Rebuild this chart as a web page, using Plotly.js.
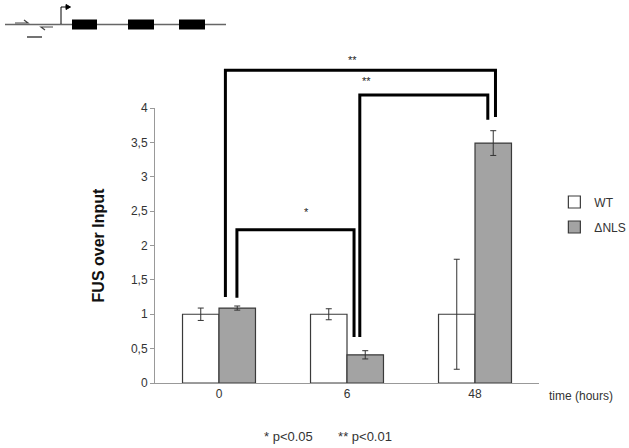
<!DOCTYPE html>
<html>
<head>
<meta charset="utf-8">
<script src="https://cdn.plot.ly/plotly-3.0.1.min.js"></script>
<style>
  html, body { margin: 0; padding: 0; background: #fff; }
  #chart { width: 629px; height: 448px; }
</style>
</head>
<body>
<div id="chart"></div>
<script>
// data
var times = ['0', '6', '48'];
var wtVals = [1.0, 1.0, 1.0];
var wtErr = [0.09, 0.08, 0.8];
var nlsVals = [1.09, 0.41, 3.49];
var nlsErr = [0.03, 0.06, 0.18];

// significance brackets: [x left, x right, top, left foot, right foot] in category / value units
var brackets = [
  [0.05, 2.16, 4.55, 1.25, 3.87],
  [1.10, 2.10, 4.19, 0.67, 3.83],
  [0.14, 1.055, 2.23, 1.24, 0.67]
];
var stars = [
  [1.04, 4.70, '**'],
  [1.15, 4.39, '**'],
  [0.68, 2.49, '*']
];

var yMax = 4;
function px(c) { return (c + 0.5) / times.length; }
function py(v) { return v / yMax; }

var trace1 = {
  x: times,
  y: wtVals,
  type: 'bar',
  name: 'WT',
  legendgroup: 'a',
  marker: { color: '#ffffff', line: { color: '#3a3a3a', width: 1.2 } },
  error_y: { type: 'data', array: wtErr, visible: true, color: '#333', thickness: 1, width: 3 }
};
var trace2 = {
  x: times,
  y: nlsVals,
  type: 'bar',
  name: '\u0394NLS',
  legendgroup: 'b',
  marker: { color: '#a3a3a3', line: { color: '#3a3a3a', width: 1.2 } },
  error_y: { type: 'data', array: nlsErr, visible: true, color: '#333', thickness: 1, width: 3 }
};

var shapes = [];
brackets.forEach(function (b) {
  shapes.push({
    type: 'path', xref: 'paper', yref: 'paper',
    path: 'M' + px(b[0]) + ',' + py(b[3]) + ' L' + px(b[0]) + ',' + py(b[2]) +
          ' L' + px(b[1]) + ',' + py(b[2]) + ' L' + px(b[1]) + ',' + py(b[4]),
    line: { color: '#000', width: 3 }
  });
});

// gene diagram, top left (paper coords from pixels)
var W = 384, H = 275, L = 155, B = 383;
function gx(p) { return (p - L) / W; }
function gy(p) { return (B - p) / H; }
shapes.push({ type: 'line', xref: 'paper', yref: 'paper', x0: gx(5), x1: gx(226), y0: gy(24.5), y1: gy(24.5), line: { color: '#666', width: 1.5 } });
[[72, 97], [128, 154], [179, 205]].forEach(function (e) {
  shapes.push({ type: 'rect', xref: 'paper', yref: 'paper', x0: gx(e[0]), x1: gx(e[1]), y0: gy(29.5), y1: gy(19.5), fillcolor: '#000', line: { width: 0 } });
});
shapes.push({ type: 'path', xref: 'paper', yref: 'paper', path: 'M' + gx(61) + ',' + gy(24) + ' L' + gx(61) + ',' + gy(7) + ' L' + gx(67) + ',' + gy(7), line: { color: '#000', width: 1 } });
shapes.push({ type: 'path', xref: 'paper', yref: 'paper', path: 'M' + gx(66) + ',' + gy(4.5) + ' L' + gx(70.5) + ',' + gy(7) + ' L' + gx(66) + ',' + gy(9.5) + ' Z', fillcolor: '#000', line: { color: '#000', width: 1 } });
shapes.push({ type: 'path', xref: 'paper', yref: 'paper', path: 'M' + gx(15) + ',' + gy(23) + ' L' + gx(28) + ',' + gy(23) + ' L' + gx(24) + ',' + gy(20), line: { color: '#444', width: 1.2 } });
shapes.push({ type: 'path', xref: 'paper', yref: 'paper', path: 'M' + gx(53) + ',' + gy(27) + ' L' + gx(41) + ',' + gy(27) + ' L' + gx(45) + ',' + gy(30), line: { color: '#444', width: 1.2 } });
shapes.push({ type: 'line', xref: 'paper', yref: 'paper', x0: gx(27), x1: gx(42), y0: gy(37), y1: gy(37), line: { color: '#444', width: 1.5 } });

var annotations = stars.map(function (s) {
  return { xref: 'paper', yref: 'paper', x: px(s[0]), y: py(s[1]), xanchor: 'center', yanchor: 'middle', text: s[2], showarrow: false, font: { size: 11, color: '#222' } };
});
annotations.push({ xref: 'paper', yref: 'paper', x: gx(547), y: gy(396), text: 'time (hours)', xanchor: 'left', yanchor: 'middle', showarrow: false, font: { size: 12, color: '#333' } });
annotations.push({ xref: 'paper', yref: 'paper', x: gx(328), y: gy(436), text: '* p<0.05       ** p<0.01', xanchor: 'center', yanchor: 'middle', showarrow: false, font: { size: 13, color: '#333' } });

var layout = {
  width: 629,
  height: 448,
  margin: { l: 155, r: 90, t: 108, b: 65, autoexpand: false },
  paper_bgcolor: '#fff',
  plot_bgcolor: '#fff',
  font: { family: 'Liberation Sans, Arial, sans-serif', size: 12, color: '#333' },
  barmode: 'group',
  bargap: 0.43,
  bargroupgap: 0,
  xaxis: {
    type: 'category',
    showline: true, linecolor: '#999', linewidth: 1, ticks: '', showgrid: false,
    tickfont: { size: 12, color: '#333' }, range: [-0.5, 2.5]
  },
  yaxis: {
    range: [0, yMax], dtick: 0.5, showline: true, linecolor: '#999', linewidth: 1,
    ticks: 'outside', ticklen: 4, tickcolor: '#999', showgrid: false, zeroline: false,
    tickformat: '.1~f',
    tickfont: { size: 12, color: '#333' },
    title: { text: '<b>FUS over Input</b>', font: { size: 16, color: '#111' }, standoff: 22 }
  },
  separators: ', ',
  showlegend: true,
  legend: {
    x: 1.04, y: 0.711, xanchor: 'left', yanchor: 'top',
    traceorder: 'grouped', tracegroupgap: 6,
    font: { size: 12, color: '#333' }, bgcolor: 'rgba(0,0,0,0)'
  },
  shapes: shapes,
  annotations: annotations
};

Plotly.newPlot('chart', [trace1, trace2], layout, { displayModeBar: false });
</script>
</body>
</html>
